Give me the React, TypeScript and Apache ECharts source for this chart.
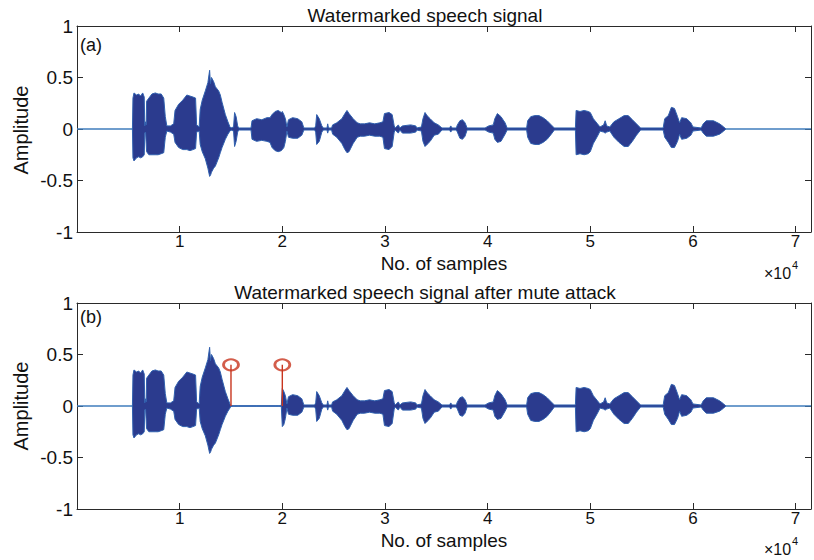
import React, { useEffect, useRef } from "react";
import * as echarts from "echarts";

// Envelope of the watermarked speech signal
const sampleIdx = [
  5400, 5450, 5550, 5800, 6000, 6200, 6400, 6550, 6600, 6680, 6740, 6780, 7000, 7300, 7630, 7900, 8200, 8450, 8600, 8750,
  9100, 9420, 9550, 9900, 10300, 10700, 11000, 11300, 11550, 11650, 11900, 12000, 12200, 12500, 12750, 12920, 13000, 13100, 13310, 13480,
  13800, 13960, 14130, 14450, 14700, 14900, 15000, 15250, 15350, 15500, 15650, 15750, 16950, 17050, 17500, 18000, 18500, 18800, 19000, 19300,
  19600, 19900, 20000, 20150, 20300, 20450, 20600, 21000, 21500, 21900, 22100, 23150, 23250, 23350, 23600, 23850, 24000, 24350, 24420, 24500,
  24800, 24900, 25300, 25800, 26100, 26300, 26500, 26900, 27300, 27600, 28000, 28500, 29000, 29500, 29800, 29950, 30400, 30700, 30900, 31000,
  31300, 31450, 31700, 32500, 33000, 33100, 33550, 33700, 33900, 34100, 34400, 34800, 35200, 35550, 36300, 36400, 36550, 36950, 37050, 37300,
  37550, 37800, 38000, 39750, 40100, 40550, 40700, 40950, 41300, 41700, 41900, 43800, 43900, 44200, 44600, 45000, 45400, 45800, 46200, 46500,
  48550, 48620, 49000, 49400, 49800, 50000, 50300, 50700, 50950, 51300, 51450, 51600, 51900, 52300, 52800, 53300, 53700, 54100, 54500, 54900,
  57100, 57250, 57600, 57900, 58200, 58500, 58700, 58900, 59400, 59800, 60000, 60800, 61000, 61300, 62000, 62600, 63000, 63200,
];
const upperEnv = [
  0, 0.30, 0.35, 0.33, 0.34, 0.32, 0.35, 0.31, 0.03, 0.07, 0.04, 0.27, 0.30, 0.34, 0.35, 0.34, 0.34, 0.30, 0.12, 0.03,
  0.03, 0.05, 0.18, 0.24, 0.28, 0.33, 0.32, 0.31, 0.30, 0.04, 0.02, 0.19, 0.28, 0.37, 0.45, 0.57, 0.44, 0.50, 0.46, 0.41,
  0.37, 0.33, 0.26, 0.14, 0.07, 0.02, 0.01, 0.02, 0.16, 0.12, 0.03, 0.01, 0.01, 0.08, 0.10, 0.09, 0.11, 0.11, 0.14, 0.17,
  0.18, 0.16, 0.17, 0.14, 0.10, 0.02, 0.09, 0.11, 0.10, 0.07, 0.01, 0.01, 0.03, 0.14, 0.10, 0.03, 0.01, 0.01, 0.05, 0.01,
  0.01, 0.04, 0.06, 0.10, 0.15, 0.18, 0.15, 0.10, 0.06, 0.05, 0.05, 0.06, 0.05, 0.06, 0.07, 0.15, 0.16, 0.14, 0.03, 0.01,
  0.04, 0.01, 0.03, 0.04, 0.03, 0.01, 0.02, 0.10, 0.16, 0.13, 0.10, 0.06, 0.04, 0.01, 0.01, 0.03, 0.01, 0.01, 0.04, 0.08,
  0.09, 0.06, 0.01, 0.01, 0.03, 0.04, 0.10, 0.15, 0.12, 0.06, 0.01, 0.01, 0.08, 0.12, 0.13, 0.13, 0.11, 0.08, 0.04, 0.01,
  0.01, 0.18, 0.17, 0.18, 0.17, 0.16, 0.10, 0.05, 0.02, 0.04, 0.08, 0.03, 0.02, 0.07, 0.10, 0.13, 0.13, 0.09, 0.05, 0.01,
  0.01, 0.10, 0.13, 0.21, 0.20, 0.12, 0.06, 0.11, 0.10, 0.06, 0.02, 0.01, 0.05, 0.08, 0.08, 0.05, 0.02, 0,
];
const lowerEnv = [
  0, -0.28, -0.31, -0.28, -0.27, -0.28, -0.27, -0.25, -0.04, -0.03, -0.03, -0.22, -0.25, -0.25, -0.25, -0.25, -0.24, -0.23, -0.08, -0.02,
  -0.03, -0.05, -0.13, -0.18, -0.20, -0.20, -0.21, -0.20, -0.19, -0.03, -0.02, -0.15, -0.22, -0.29, -0.38, -0.46, -0.45, -0.42, -0.38, -0.36,
  -0.28, -0.23, -0.18, -0.10, -0.05, -0.02, -0.01, -0.02, -0.17, -0.12, -0.03, -0.01, -0.01, -0.10, -0.12, -0.11, -0.12, -0.13, -0.18, -0.21,
  -0.22, -0.21, -0.20, -0.18, -0.12, -0.02, -0.08, -0.09, -0.09, -0.06, -0.01, -0.01, -0.03, -0.15, -0.12, -0.03, -0.01, -0.01, -0.04, -0.01,
  -0.01, -0.05, -0.08, -0.14, -0.20, -0.23, -0.22, -0.14, -0.08, -0.07, -0.07, -0.06, -0.07, -0.07, -0.08, -0.19, -0.20, -0.17, -0.03, -0.01,
  -0.04, -0.01, -0.04, -0.04, -0.03, -0.01, -0.02, -0.12, -0.17, -0.15, -0.12, -0.06, -0.05, -0.01, -0.01, -0.03, -0.01, -0.01, -0.03, -0.09,
  -0.10, -0.07, -0.01, -0.01, -0.03, -0.04, -0.10, -0.13, -0.12, -0.05, -0.01, -0.01, -0.08, -0.14, -0.15, -0.15, -0.13, -0.10, -0.05, -0.01,
  -0.01, -0.25, -0.24, -0.25, -0.24, -0.22, -0.14, -0.07, -0.02, -0.03, -0.04, -0.03, -0.02, -0.08, -0.13, -0.17, -0.17, -0.12, -0.06, -0.01,
  -0.01, -0.08, -0.13, -0.18, -0.18, -0.12, -0.05, -0.10, -0.09, -0.06, -0.02, -0.01, -0.04, -0.07, -0.07, -0.05, -0.02, 0,
];

// Mute attack: samples between the two stems are silenced
const mutePositions = [15000, 20000];
const muteMarkerValue = [0.4, 0.4];

const xMin = 0;
const xMax = 71500;
const xTickStep = 10000;
const yTickLabels = ["-1", "-0.5", "0", "0.5", "1"];

const FONT = "'Liberation Sans', Arial, Helvetica, sans-serif";
const NAVY = "#2b3b8e";
const EDGE = "#3060ae";
const BASE = "#3f7cbc";
const RED = "#c8351e";
const AXIS = "#2a2a2a";

function axisPair(gridIndex: number) {
  const xs = [
    {
      gridIndex,
      type: "value",
      min: xMin,
      max: xMax,
      interval: xTickStep,
      position: "bottom",
      axisLine: { onZero: false, lineStyle: { color: AXIS, width: 1 } },
      axisTick: { inside: true, length: 6, lineStyle: { color: AXIS } },
      axisLabel: {
        fontFamily: FONT,
        fontSize: 17,
        color: "#111",
        margin: 1,
        formatter: (v: number) => (v > 0 && v % xTickStep === 0 ? String(v / xTickStep) : ""),
      },
      splitLine: { show: false },
    },
    {
      gridIndex,
      type: "value",
      min: xMin,
      max: xMax,
      interval: xTickStep,
      position: "top",
      axisLine: { onZero: false, lineStyle: { color: AXIS, width: 1 } },
      axisTick: { inside: true, length: 6, lineStyle: { color: AXIS } },
      axisLabel: { show: false },
      splitLine: { show: false },
    },
  ];
  const ys = [
    {
      gridIndex,
      type: "value",
      min: -1,
      max: 1,
      interval: 0.5,
      position: "left",
      axisLine: { show: true, onZero: false, lineStyle: { color: AXIS, width: 1 } },
      axisTick: { show: true, inside: true, length: 6, lineStyle: { color: AXIS } },
      axisLabel: {
        fontFamily: FONT,
        fontSize: 19,
        color: "#111",
        margin: 4,
        formatter: (v: number) => yTickLabels[Math.round((v + 1) / 0.5)] ?? "",
      },
      splitLine: { show: false },
    },
    {
      gridIndex,
      type: "value",
      min: -1,
      max: 1,
      interval: 0.5,
      position: "right",
      axisLine: { show: true, onZero: false, lineStyle: { color: AXIS, width: 1 } },
      axisTick: { show: true, inside: true, length: 6, lineStyle: { color: AXIS } },
      axisLabel: { show: false },
      splitLine: { show: false },
    },
  ];
  return { xs, ys };
}

function envelopeSeries(xi: number, yi: number, up: number[][], lo: number[][]) {
  const common = {
    type: "line",
    xAxisIndex: xi,
    yAxisIndex: yi,
    showSymbol: false,
    symbol: "none",
    silent: true,
    z: 3,
    lineStyle: { color: EDGE, width: 1 },
    areaStyle: { color: NAVY, opacity: 1 },
  };
  return [
    {
      type: "line",
      xAxisIndex: xi,
      yAxisIndex: yi,
      symbol: "none",
      silent: true,
      z: 2,
      data: [
        [xMin, 0],
        [xMax, 0],
      ],
      lineStyle: { color: BASE, width: 1.3 },
    },
    { ...common, data: up },
    { ...common, data: lo },
  ];
}

export default function App() {
  const ref = useRef<HTMLDivElement>(null);

  useEffect(() => {
    if (!ref.current) return;
    const chart = echarts.init(ref.current, undefined, { renderer: "svg" });

    const topUp = sampleIdx.map((s, i) => [s, upperEnv[i]]);
    const topLo = sampleIdx.map((s, i) => [s, lowerEnv[i]]);
    const muted = (s: number) => s >= mutePositions[0] && s < mutePositions[1];
    const botUp = sampleIdx.map((s, i) => [s, muted(s) ? 0 : upperEnv[i]]);
    const botLo = sampleIdx.map((s, i) => [s, muted(s) ? 0 : lowerEnv[i]]);

    const a = axisPair(0);
    const b = axisPair(1);

    const stems = mutePositions.map((p, i) => ({
      type: "line",
      xAxisIndex: 2,
      yAxisIndex: 2,
      symbol: "none",
      silent: true,
      z: 5,
      data: [
        [p, 0],
        [p, muteMarkerValue[i]],
      ],
      lineStyle: { color: RED, width: 1.4 },
    }));

    const titleStyle = { fontFamily: FONT, fontSize: 19, fill: "#111", align: "center", verticalAlign: "middle" };
    const labelStyle = { fontFamily: FONT, fontSize: 20, fill: "#111", align: "center", verticalAlign: "middle" };
    const xNameStyle = { fontFamily: FONT, fontSize: 19, fill: "#111", align: "center", verticalAlign: "middle" };
    const panelStyle = { fontFamily: FONT, fontSize: 18, fill: "#111", align: "left", verticalAlign: "middle" };
    const expBase = { fontFamily: FONT, fontSize: 16, fill: "#111", align: "left", verticalAlign: "middle" };
    const expSup = { fontFamily: FONT, fontSize: 11, fill: "#111", align: "left", verticalAlign: "middle" };

    chart.setOption({
      animation: false,
      backgroundColor: "#ffffff",
      grid: [
        { left: 77, top: 26, width: 734, height: 206 },
        { left: 77, top: 303, width: 734, height: 206 },
      ],
      xAxis: [...a.xs, ...b.xs.map((x) => ({ ...x, gridIndex: 1 }))],
      yAxis: [...a.ys, ...b.ys.map((y) => ({ ...y, gridIndex: 1 }))],
      series: [
        ...envelopeSeries(0, 0, topUp, topLo),
        ...envelopeSeries(2, 2, botUp, botLo),
        ...stems,
        {
          type: "scatter",
          xAxisIndex: 2,
          yAxisIndex: 2,
          silent: true,
          z: 6,
          symbol: "circle",
          symbolSize: [15, 11],
          data: mutePositions.map((p, i) => [p, muteMarkerValue[i]]),
          itemStyle: { color: "rgba(0,0,0,0)", borderColor: RED, borderWidth: 2.4 },
        },
      ],
      graphic: [
        { type: "text", x: 425, y: 15, style: { ...titleStyle, text: "Watermarked speech signal" } },
        { type: "text", x: 425, y: 292, style: { ...titleStyle, text: "Watermarked speech signal after mute attack" } },
        { type: "text", x: 444, y: 263, style: { ...xNameStyle, text: "No. of samples" } },
        { type: "text", x: 444, y: 540, style: { ...xNameStyle, text: "No. of samples" } },
        { type: "text", x: 21, y: 130, rotation: Math.PI / 2, style: { ...labelStyle, text: "Amplitude" } },
        { type: "text", x: 21, y: 406, rotation: Math.PI / 2, style: { ...labelStyle, text: "Amplitude" } },
        { type: "text", x: 80, y: 45, style: { ...panelStyle, text: "(a)" } },
        { type: "text", x: 80, y: 317, style: { ...panelStyle, text: "(b)" } },
        { type: "text", x: 764, y: 273, style: { ...expBase, text: "\u00d710" } },
        { type: "text", x: 792, y: 265, style: { ...expSup, text: "4" } },
        { type: "text", x: 764, y: 549, style: { ...expBase, text: "\u00d710" } },
        { type: "text", x: 792, y: 541, style: { ...expSup, text: "4" } },
      ],
    });

    return () => chart.dispose();
  }, []);

  return (
    <div
      ref={ref}
      style={{ position: "absolute", left: 0, top: 0, width: 814, height: 560, background: "#fff" }}
    />
  );
}
